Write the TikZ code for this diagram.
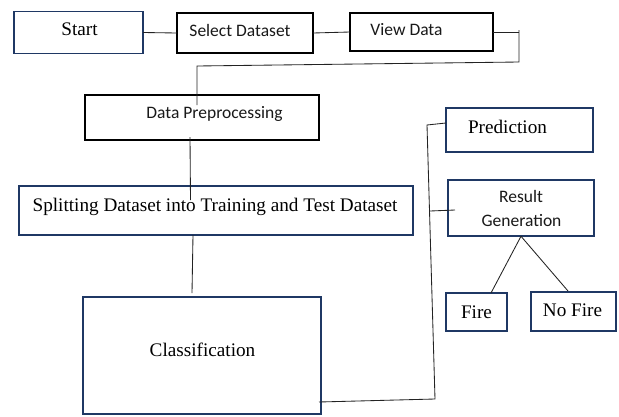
\documentclass[tikz,border=0pt]{standalone}
\usepackage{fontspec}
\setmainfont{Liberation Serif}
\newfontfamily\calfont{Carlito}
\definecolor{navy}{RGB}{31,56,100}
\definecolor{linegray}{RGB}{35,35,35}
\begin{document}
\begin{tikzpicture}[x=1pt,y=-1pt,
  navybox/.style={draw=navy, line width=1.8pt, rectangle, inner sep=0pt, outer sep=0pt},
  blackbox/.style={draw=black, line width=2.2pt, rectangle, inner sep=0pt, outer sep=0pt},
  sertext/.style={font=\fontsize{19.2}{22}\selectfont, inner sep=0pt, anchor=base, text=black},
  caltext/.style={font=\calfont\fontsize{17.5}{21}\selectfont, inner sep=0pt, anchor=base, text=black!90},
  conn/.style={draw=linegray, line width=0.85pt}]
\fill[white] (0,0) rectangle (619,416);
\useasboundingbox (0,0) rectangle (619,416);

% boxes
\node[navybox, minimum width=129pt, minimum height=42pt] (start) at (78.5,32.5) {};
\node[blackbox, minimum width=136pt, minimum height=40pt] (select) at (245,33) {};
\node[blackbox, minimum width=143pt, minimum height=38pt] (view) at (421.5,32) {};
\node[blackbox, minimum width=234pt, minimum height=45pt] (prep) at (202,117.5) {};
\node[navybox, minimum width=394pt, minimum height=49pt] (split) at (216,210.5) {};
\node[navybox, minimum width=238pt, minimum height=117pt] (class) at (202,355.5) {};
\node[navybox, minimum width=147pt, minimum height=44pt] (pred) at (519.5,130) {};
\node[navybox, minimum width=146pt, minimum height=56.5pt] (result) at (521,208) {};
\node[navybox, minimum width=61pt, minimum height=38pt] (fire) at (476.5,312) {};
\node[navybox, minimum width=85pt, minimum height=39pt] (nofire) at (573.5,311.5) {};

% texts
\node[sertext] (tstart) at (79.5,35) {Start};
\node[caltext] (tselect) at (240,36) {Select Dataset};
\node[caltext] (tview) at (406.5,35) {View Data};
\node[caltext] (tprep) at (214.5,118) {Data Preprocessing};
\node[sertext] (tsplit) at (215,211) {Splitting Dataset into Training and Test Dataset};
\node[sertext] (tpred) at (507.5,133) {Prediction};
\node[caltext] (tres) at (521,202) {Result};
\node[caltext] (tgen) at (521.5,226) {Generation};
\node[sertext] (tclass) at (202.5,356) {Classification};
\node[sertext] (tfire) at (476.5,318) {Fire};
\node[sertext] (tnofire) at (572.5,316.5) {No Fire};

% connector points
\coordinate (v0) at (519,30);
\coordinate (v1) at (519,32);
\coordinate (v2) at (519,62);
\coordinate (p1) at (197,66);
\coordinate (p2) at (197,105);
\coordinate (d1) at (190,137);
\coordinate (d2) at (190.5,200);
\coordinate (s1) at (193,235);
\coordinate (c1) at (192,293);
\coordinate (k1) at (319,402);
\coordinate (k2) at (435,399);
\coordinate (k3) at (427,125);
\coordinate (k4) at (446,123);
\coordinate (r1) at (430,211);
\coordinate (r2) at (455,210);
\coordinate (f1) at (491,293);
\coordinate (n1) at (568,291);

% connectors
\draw[conn] (start.east) -- (select.west);
\draw[conn] (select.east) -- (view.west);
\draw[conn] (view.east) -- (v1);
\draw[conn] (v0) -- (v2) -- (p1) -- (p2);
\draw[conn] (d1) -- (d2);
\draw[conn] (s1) -- (c1);
\draw[conn] (k1) -- (k2) -- (k3) -- (k4);
\draw[conn] (r1) -- (r2);
\draw[conn] (result.south) -- (f1);
\draw[conn] (result.south) -- (n1);
\end{tikzpicture}
\end{document}
